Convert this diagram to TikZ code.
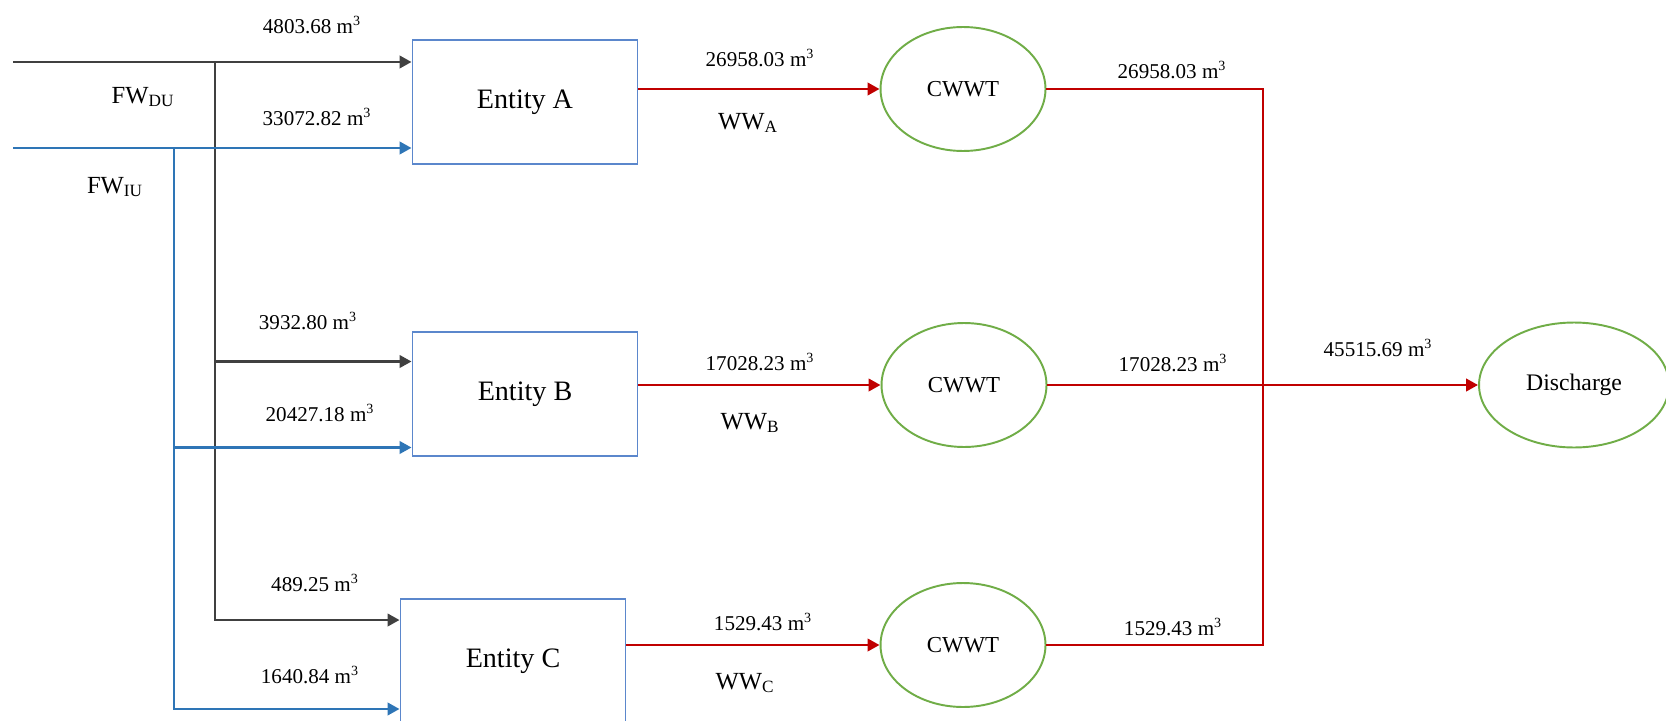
\documentclass[tikz,border=0pt]{standalone}
\usepackage{fontspec}
\setmainfont{Liberation Serif}
\usepackage{tikz}
\usetikzlibrary{arrows.meta, positioning, shapes.geometric}
\definecolor{DUGray}{HTML}{404040}
\definecolor{IUBlue}{HTML}{2E75B6}
\definecolor{BoxBlue}{HTML}{5B87CC}
\definecolor{WWRed}{HTML}{C00000}
\definecolor{TankGreen}{HTML}{70AD47}
\newcommand{\cubic}[1]{#1~m\textsuperscript{3}}

\begin{document}
\begin{tikzpicture}[
    x=0.02cm, y=-0.02cm,
    entity/.style={rectangle, draw=BoxBlue, line width=1.1pt, fill=white, minimum width=4.5cm, minimum height=2.48cm, font=\fontsize{16}{19}\selectfont},
    tank/.style={ellipse, draw=TankGreen, line width=1.1pt, fill=white, minimum width=3.3cm, minimum height=2.48cm, font=\fontsize{13}{16}\selectfont},
    qty/.style={font=\fontsize{12}{14}\selectfont, inner sep=1pt},
    stream/.style={font=\fontsize{14}{17}\selectfont, inner sep=1pt},
    flow/.style={-{Triangle[length=6.8pt,width=7pt]}},
    duline/.style={draw=DUGray, line width=1.6pt},
    iuline/.style={draw=IUBlue, line width=1.6pt},
    wwline/.style={draw=WWRed, line width=1.6pt}
]
\useasboundingbox[fill=white] (0,0) rectangle (1666,720);

\node[entity] (entA) at (525,102) {Entity A};
\node[entity] (entB) at (525,394) {Entity B};
\node[entity] (entC) at (513,661) {Entity C};
\node[tank] (cwA) at (963,89) {CWWT};
\node[tank] (cwB) at (964,385) {CWWT};
\node[tank] (cwC) at (963,645) {CWWT};
\node[tank, minimum width=3.8cm, minimum height=2.5cm, font=\fontsize{13.5}{16}\selectfont] (dis) at (1574,385) {Discharge};

\coordinate (duin) at (13,62);
\coordinate (iuin) at (13,148);
\coordinate (dusplit) at (215,62);
\coordinate (iusplit) at (174,148);
\coordinate (merge) at (1263,385);

% fresh water in
\draw[duline, flow] (duin) -- (duin -| entA.west);
\draw[duline, flow] (dusplit) |- ([yshift=0.65cm]entB.west);
\draw[duline, flow] (dusplit) |- ([yshift=0.82cm]entC.west);
\draw[iuline, flow] (iuin) -- (iuin -| entA.west);
\draw[iuline, flow] (iusplit) |- ([yshift=-1.07cm]entB.west);
\draw[iuline, flow] (iusplit) |- ([yshift=-0.96cm]entC.west);

% waste water out
\draw[wwline, flow] (cwA -| entA.east) -- (cwA.west);
\draw[wwline, flow] (cwB -| entB.east) -- (cwB.west);
\draw[wwline, flow] (cwC -| entC.east) -- (cwC.west);
\draw[wwline] (cwA.east) -| (merge);
\draw[wwline] (cwC.east) -| (merge);
\draw[wwline] (cwB.east) -- (merge);
\draw[wwline, flow] (merge) -- (dis.west);

\node[qty] (qDUA) at (312,25) {\cubic{4803.68}};
\node[qty] (qIUA) at (317,117) {\cubic{33072.82}};
\node[qty] (qDUB) at (308,321) {\cubic{3932.80}};
\node[qty] (qIUB) at (320,413) {\cubic{20427.18}};
\node[qty] (qDUC) at (315,583) {\cubic{489.25}};
\node[qty] (qIUC) at (310,675) {\cubic{1640.84}};
\node[qty] (qWWA) at (760,58) {\cubic{26958.03}};
\node[qty] (qWWB) at (760,362) {\cubic{17028.23}};
\node[qty] (qWWC) at (763,622) {\cubic{1529.43}};
\node[qty] (qCWA) at (1172,70) {\cubic{26958.03}};
\node[qty] (qCWB) at (1173,363) {\cubic{17028.23}};
\node[qty] (qCWC) at (1173,627) {\cubic{1529.43}};
\node[qty] (qDis) at (1378,348) {\cubic{45515.69}};

\node[stream] (wwA) at (748,123) {WW\textsubscript{A}};
\node[stream] (wwB) at (750,423) {WW\textsubscript{B}};
\node[stream] (wwC) at (745,683) {WW\textsubscript{C}};
\node[stream] (fwDU) at (143,97) {FW\textsubscript{DU}};
\node[stream] (fwIU) at (115,187) {FW\textsubscript{IU}};

\end{tikzpicture}
\end{document}
